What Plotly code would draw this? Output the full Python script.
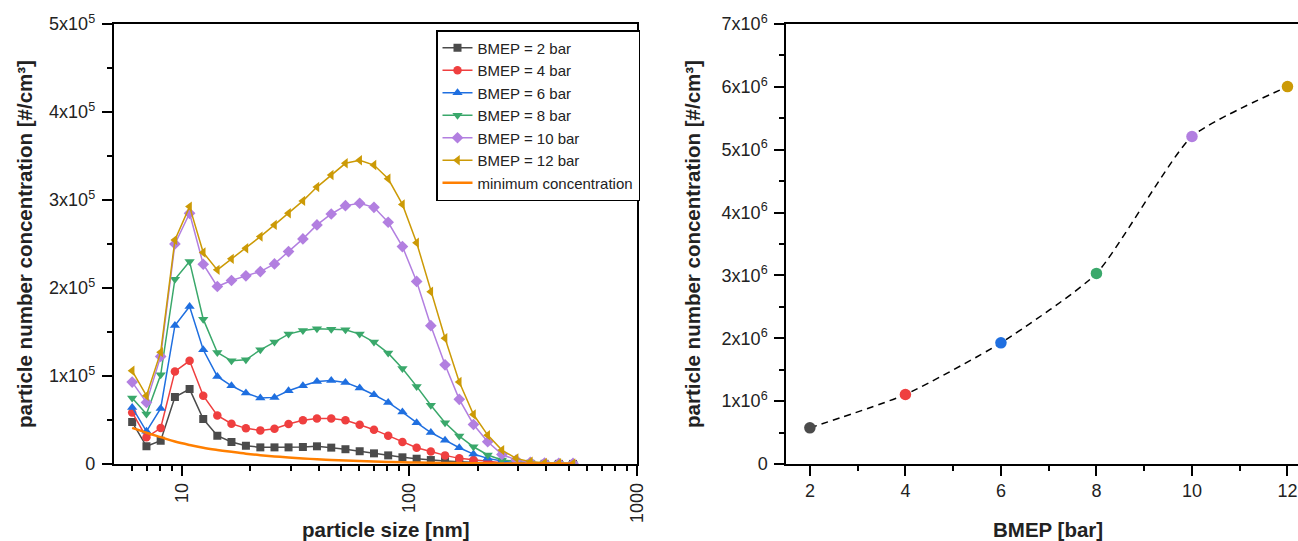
import plotly.graph_objects as go

# ---------------- data ----------------
sizes_nm = [6.04, 6.98, 8.06, 9.31, 10.8, 12.4, 14.3, 16.5, 19.1, 22.1, 25.5, 29.4, 34.0, 39.2,
            45.3, 52.3, 60.4, 69.8, 80.6, 93.1, 107.5, 124.1, 143.3, 165.5, 191.1, 220.7,
            254.8, 294.3, 339.8, 392.4, 453.2, 523.3]

bmep2 = [47700, 20100, 26500, 76000, 85100, 51100, 32200, 25000, 20800, 18900, 18900, 18900,
         19300, 20100, 18600, 16800, 14500, 12100, 9800, 7600, 6000, 4500, 3400, 2500, 1700,
         1100, 700, 400, 300, 200, 150, 100]
bmep4 = [58600, 30300, 40900, 105200, 117300, 77600, 55200, 45800, 40500, 38200, 40100, 45400,
         49600, 51800, 51800, 49600, 44600, 39000, 32200, 25000, 18500, 14200, 9800, 6400, 4500,
         2600, 1500, 800, 600, 500, 500, 500]
bmep6 = [64300, 37100, 63200, 157400, 179000, 129800, 99500, 88900, 80600, 74900, 75700, 83200,
         88900, 93800, 95000, 92700, 86300, 78700, 70000, 59000, 47000, 35800, 27100, 18500,
         11300, 6400, 3400, 1500, 800, 500, 400, 300]
bmep8 = [74900, 56800, 101400, 210000, 230000, 164600, 126700, 117300, 118400, 129800, 138500,
         147600, 151700, 153600, 153200, 152500, 147600, 138500, 126000, 108600, 88200, 66700,
         46800, 31700, 19600, 10200, 4500, 2600, 1500, 800, 500, 400]
bmep10 = [93100, 70000, 122200, 250100, 284900, 227000, 201700, 208500, 213800, 218700, 227400,
          241400, 255800, 271700, 284100, 293600, 296300, 291700, 274700, 247100, 207500, 157200,
          112700, 73500, 44900, 25300, 10900, 4500, 1900, 1100, 800, 600]
bmep12 = [105900, 77600, 127100, 254600, 292500, 240300, 220600, 233100, 245200, 258400, 271700,
          284900, 299000, 314700, 328400, 341700, 345200, 339700, 324100, 295000, 251500, 195700,
          142900, 93100, 56200, 32800, 15800, 6400, 2600, 1300, 800, 600]
min_conc = [41000, 35500, 30500, 25500, 21600, 18500, 16000, 13800, 11700, 10000, 8600, 7400,
            6300, 5400, 4600, 3900, 3300, 2800, 2400, 2000, 1700, 1450, 1200, 1000, 850, 700,
            600, 500, 420, 350, 300, 250]

series_names = ["BMEP = 2 bar", "BMEP = 4 bar", "BMEP = 6 bar", "BMEP = 8 bar",
                "BMEP = 10 bar", "BMEP = 12 bar"]

bmep_bar = [2, 4, 6, 8, 10, 12]
total_conc = [575000, 1106000, 1927000, 3032000, 5211000, 6004000]

left_ytick_vals = [0, 100000, 200000, 300000, 400000, 500000]
left_ytick_text = ["0", "1x10<sup>5</sup>", "2x10<sup>5</sup>", "3x10<sup>5</sup>",
                   "4x10<sup>5</sup>", "5x10<sup>5</sup>"]
left_xtick_vals = [10, 100, 1000]
left_xtick_text = ["10", "100", "1000"]
right_ytick_vals = [0, 1e6, 2e6, 3e6, 4e6, 5e6, 6e6, 7e6]
right_ytick_text = ["0"] + ["%dx10<sup>6</sup>" % k for k in range(1, 8)]
right_xtick_vals = [2, 4, 6, 8, 10, 12]

# ---------------- style ----------------
colors = ["#4b4b4b", "#ef3f3f", "#1f6fe0", "#3aa86b", "#b27fe0", "#cc9a06"]
symbols = ["square", "circle", "triangle-up", "triangle-down", "diamond", "triangle-left"]
msizes = [8, 8.5, 9, 9, 9, 9]
orange = "#ff7f00"
FONT = "Liberation Sans, Arial, Helvetica, sans-serif"

fig = go.Figure()
all_series = [bmep2, bmep4, bmep6, bmep8, bmep10, bmep12]
for name, vals, c, s, ms in zip(series_names, all_series, colors, symbols, msizes):
    fig.add_trace(go.Scatter(
        x=sizes_nm, y=vals, name=name, mode="lines+markers",
        line=dict(color=c, width=1.5),
        marker=dict(symbol=s, size=ms, color=c, line=dict(width=0)),
        xaxis="x", yaxis="y"))
fig.add_trace(go.Scatter(
    x=sizes_nm, y=min_conc, name="minimum concentration", mode="lines",
    line=dict(color=orange, width=2.5, shape="spline"), xaxis="x", yaxis="y"))

fig.add_trace(go.Scatter(
    x=bmep_bar, y=total_conc, mode="lines", showlegend=False,
    line=dict(color="black", width=1.5, dash="7px,5px", shape="spline", smoothing=0.55),
    xaxis="x2", yaxis="y2"))
fig.add_trace(go.Scatter(
    x=bmep_bar, y=total_conc, mode="markers", showlegend=False,
    marker=dict(symbol="circle", size=11.5, color=colors, line=dict(width=0)),
    xaxis="x2", yaxis="y2"))

ydom = [(541 - 464) / 541, (541 - 24) / 541]
axis_common = dict(showline=True, linecolor="black", linewidth=1.5, ticks="outside",
                   ticklen=10, tickwidth=1.5, tickcolor="black", showgrid=False,
                   zeroline=False, automargin=False,
                   tickfont=dict(family=FONT, size=18, color="#222"))
minor_common = dict(ticks="outside", ticklen=5, tickwidth=1.5, tickcolor="black")

fig.update_layout(
    width=1298, height=541,
    margin=dict(l=0, r=0, t=0, b=0, autoexpand=False),
    paper_bgcolor="white", plot_bgcolor="white",
    font=dict(family=FONT, color="#222"),
    xaxis=dict(domain=[113.5 / 1298, 637 / 1298], type="log",
               range=[0.69897, 3.0], tickmode="array", tickvals=left_xtick_vals,
               ticktext=left_xtick_text, tickangle=-90, mirror=True, anchor="y",
               minor=dict(tickvals=[6, 7, 8, 9, 20, 30, 40, 50, 60, 70, 80, 90,
                                    200, 300, 400, 500, 600, 700, 800, 900], **minor_common),
               **axis_common),
    yaxis=dict(domain=ydom, range=[0, 500000], tickmode="array",
               tickvals=left_ytick_vals, ticktext=left_ytick_text, mirror=True,
               anchor="x", ticklabelstandoff=3,
               minor=dict(dtick=50000, **minor_common),
               **axis_common),
    xaxis2=dict(domain=[786 / 1298, 1.0], range=[1.5, 12.22], tickmode="array",
                tickvals=right_xtick_vals, mirror=True, anchor="y2",
                minor=dict(dtick=1, tick0=1, **minor_common),
                **axis_common),
    yaxis2=dict(domain=ydom, range=[0, 7e6], tickmode="array",
                tickvals=right_ytick_vals, ticktext=right_ytick_text, anchor="x2",
                ticklabelstandoff=3,
                minor=dict(dtick=500000, **minor_common),
                **axis_common),
    legend=dict(x=436 / 1298, y=1 - 30 / 541, xanchor="left", yanchor="top",
                bordercolor="black", borderwidth=1.5, bgcolor="white",
                font=dict(family=FONT, size=15, color="#222"),
                itemwidth=30, tracegroupgap=0),
    showlegend=True,
)

title_font = dict(family=FONT, size=20.5, color="#222")
annots = [
    dict(text="<b>particle size [nm]</b>", x=385, y=529),
    dict(text="<b>BMEP [bar]</b>", x=1048, y=529),
    dict(text="<b>particle number concentration [#/cm³]</b>", x=25, y=244, textangle=-90),
    dict(text="<b>particle number concentration [#/cm³]</b>", x=693, y=244, textangle=-90),
]
for a in annots:
    fig.add_annotation(text=a["text"], x=a["x"] / 1298, y=1 - a["y"] / 541,
                       xref="paper", yref="paper", xanchor="center", yanchor="middle",
                       showarrow=False, font=title_font, textangle=a.get("textangle", 0))

fig.write_html("out.html", config={"displayModeBar": False},
               post_script="document.body.style.margin='0';document.body.style.overflow='hidden';")
